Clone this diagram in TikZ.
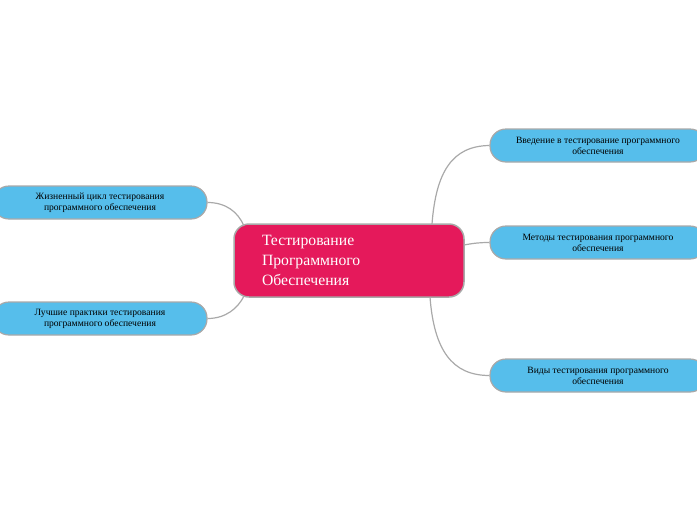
\documentclass[tikz,border=0pt]{standalone}
\usepackage{fontspec}
\setmainfont{Liberation Serif}
\definecolor{pinkc}{HTML}{E5195B}
\definecolor{bluec}{HTML}{56BEEB}
\definecolor{edgec}{HTML}{A9A9A9}
\begin{document}
\begin{tikzpicture}[x=1pt,y=-1pt,
  central/.style={draw=edgec, line width=1.5pt, fill=pinkc, rounded corners=15pt,
    text=white, text width=174pt, align=left, inner xsep=28pt, inner ysep=0pt,
    minimum height=73pt, font=\fontsize{15.7}{20}\selectfont},
  topic/.style={draw=edgec, line width=1.2pt, fill=bluec, rounded corners=16pt,
    text=black, align=center, minimum height=33pt, inner ysep=0pt,
    font=\fontsize{9.6}{11}\selectfont},
  conn/.style={draw=edgec, line width=1.2pt}]
\useasboundingbox (0,0) rectangle (697,520);
\node[central] (c) at (349,260.5) {Тестирование\\Программного\\Обеспечения};
\node[topic, minimum width=216pt] (r1) at (598,145.5) {Введение в тестирование программного\\обеспечения};
\node[topic, minimum width=216pt] (r2) at (598,242.5) {Методы тестирования программного\\обеспечения};
\node[topic, minimum width=216pt] (r3) at (598,375.5) {Виды тестирования программного\\обеспечения};
\node[topic, minimum width=214pt] (l1) at (100,202.5) {Жизненный цикл тестирования\\программного обеспечения};
\node[topic, minimum width=214pt] (l2) at (100,318.5) {Лучшие практики тестирования\\программного обеспечения};
\coordinate (ctr) at (432,224);
\coordinate (cmr) at (464,245);
\coordinate (cbr) at (430,297);
\coordinate (ctl) at (244,226);
\coordinate (cbl) at (244,296);
\draw[conn] (ctr) .. controls (436,172) and (452,146) .. (r1.west);
\draw[conn] (cmr) .. controls (475,243) and (480,242.5) .. (r2.west);
\draw[conn] (cbr) .. controls (434,350) and (452,375.5) .. (r3.west);
\draw[conn] (l1.east) .. controls (226,202.5) and (238,212) .. (ctl);
\draw[conn] (l2.east) .. controls (226,318.5) and (238,308) .. (cbl);
\end{tikzpicture}
\end{document}
